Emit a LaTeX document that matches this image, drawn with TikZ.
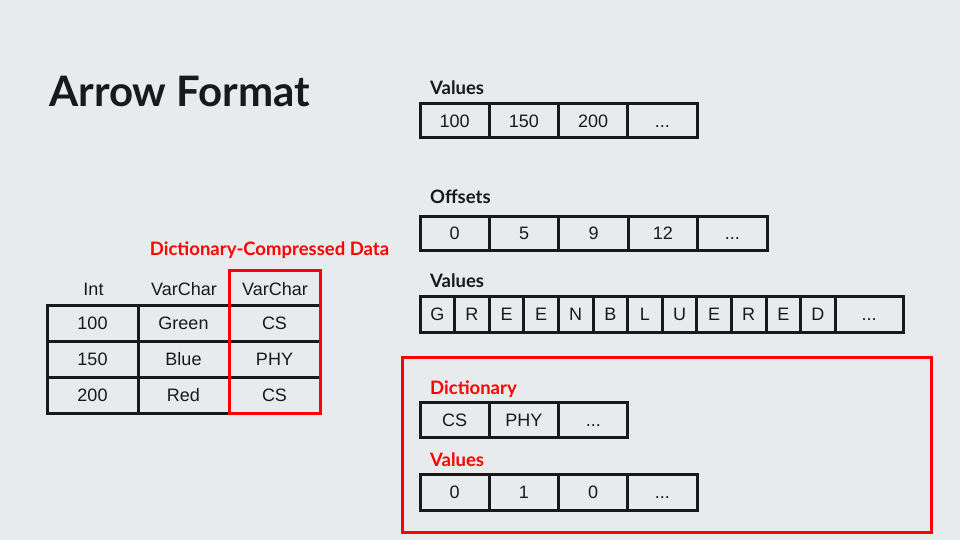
\documentclass[tikz,border=0pt]{standalone}
\usepackage{fontspec}
\setmainfont{Liberation Sans}
\newfontfamily\labelfont{Lato}
\usepackage{xcolor}
\usepackage{tikz}

\definecolor{slidebg}{RGB}{232,235,237}
\definecolor{textblack}{RGB}{25,25,25}
\definecolor{dictred}{RGB}{255,0,0}
\newcommand{\moredots}{...}

\tikzset{
  cell/.style={draw=textblack,line width=3pt,minimum height=34pt,inner sep=0pt,outer sep=0pt,
    text height=13pt,text depth=0pt,
    font=\fontsize{18}{20}\selectfont,text=textblack},
  tcell/.style={cell,minimum width=91pt,minimum height=36pt},
  head/.style={inner sep=0pt,text height=13pt,text depth=0pt,
    font=\fontsize{18}{20}\selectfont,text=textblack},
  caption/.style={anchor=base west,inner sep=0pt,font=\labelfont\bfseries\fontsize{18.5}{20}\selectfont,text=textblack},
  redcaption/.style={caption,text=dictred}
}

\begin{document}
\begin{tikzpicture}[x=1pt,y=-1pt]
  \fill[slidebg] (0,0) rectangle (960,540);
  \useasboundingbox (0,0) rectangle (960,540);
  \node[anchor=base west,inner sep=0pt,text=textblack,
        font=\labelfont\bfseries\fontsize{42}{46}\selectfont] (title) at (49,107) {Arrow Format};

  % the table
  \node[head] (hint) at (93.5,289) {Int};
  \node[head] (hvc) at (184,289) {VarChar};
  \node[head] (hdc) at (275,289) {VarChar};
  \foreach \n/\c/\d [count=\r] in {100/Green/CS,150/Blue/PHY,200/Red/CS} {
    \node[tcell] (int\r) at (92.5,{305+36*(\r-0.5)}) {\n};
    \node[tcell] (col\r) at (183.5,{305+36*(\r-0.5)}) {\c};
    \node[tcell] (dc\r) at (274.5,{305+36*(\r-0.5)}) {\d};
  }
  \draw[dictred,line width=3pt] (229,270) rectangle (320,413);
  \node[anchor=base,inner sep=0pt,text=dictred,font=\labelfont\bfseries\fontsize{18.5}{20}\selectfont]
    (dictcap) at (269.5,255) {Dictionary-Compressed Data};

  % int column
  \node[caption] (valcap) at (430,95) {Values};
  \foreach \v [count=\i] in {100,150,200,\moredots}
    \node[cell,minimum width=69.25pt] (ival\i) at ({420+69.25*(\i-0.5)},121) {\v};

  % varchar column
  \node[caption] (offcap) at (430,204) {Offsets};
  \foreach \v [count=\i] in {0,5,9,12,\moredots}
    \node[cell,minimum width=69.4pt] (off\i) at ({420+69.4*(\i-0.5)},233) {\v};
  \node[caption] (chcap) at (430,287) {Values};
  \foreach \v [count=\i] in {G,R,E,E,N,B,L,U,E,R,E,D}
    \node[cell,minimum width=34.6pt,minimum height=36pt] (ch\i) at ({420+34.6*(\i-0.5)},314) {\v};
  \node[cell,minimum width=68pt,minimum height=36pt,anchor=west] (chmore) at (ch12.east) {\moredots};

  % dictionary-compressed column
  \draw[dictred,line width=3pt] (402,357) rectangle (931,532);
  \node[redcaption] (dictlab) at (430,394) {Dictionary};
  \foreach \v [count=\i] in {CS,PHY,\moredots}
    \node[cell,minimum width=69.3pt,minimum height=35pt] (dict\i) at ({420+69.3*(\i-0.5)},419.5) {\v};
  \node[redcaption] (codecap) at (430,466) {Values};
  \foreach \v [count=\i] in {0,1,0,\moredots}
    \node[cell,minimum width=69.25pt,minimum height=36pt] (code\i) at ({420+69.25*(\i-0.5)},492) {\v};
\end{tikzpicture}
\end{document}
